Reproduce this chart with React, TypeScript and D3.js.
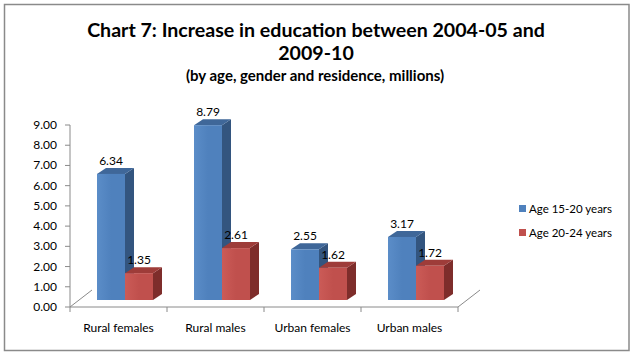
import React from "react";
import * as d3 from "d3";

const categories = ["Rural females", "Rural males", "Urban females", "Urban males"];
const seriesNames = ["Age 15-20 years", "Age 20-24 years"];
const age1520 = [6.34, 8.79, 2.55, 3.17];
const age2024 = [1.35, 2.61, 1.62, 1.72];
const yTicks = [0, 1, 2, 3, 4, 5, 6, 7, 8, 9];

const W = 633;
const H = 356;
const FONT = "Lato, 'Open Sans', sans-serif";

const palette = [
  { front: "#4F81BD", light: "#5B8DC8", side: "#33557F", top: "#3F6799" },
  { front: "#C0504D", light: "#CB5B57", side: "#7E2D2B", top: "#9E3C39" },
];

export default function App() {
  const series = [age1520, age2024];
  const x0 = d3.scaleBand<string>().domain(categories).range([70, 458]).padding(0);
  const x1 = d3.scaleBand<string>().domain(seriesNames).range([27, 83]).padding(0);
  const yAxis = d3.scaleLinear().domain([0, 9]).range([307, 125]);
  const yBar = d3.scaleLinear().domain([0, 9]).range([300, 121]);
  const dx = 9;
  const dy = -6;
  const fdx = 22;
  const fdy = -17;
  const fmt = d3.format(".2f");

  return (
    <svg width={W} height={H} style={{ position: "absolute", left: 0, top: 0, background: "#fff" }}>
      <defs>
        {palette.map((p, i) => (
          <linearGradient id={`g${i}`} key={i} x1="0" x2="1" y1="0" y2="0">
            <stop offset="0" stopColor={p.light} />
            <stop offset="0.5" stopColor={p.front} />
            <stop offset="1" stopColor={p.front} />
          </linearGradient>
        ))}
      </defs>
      <rect x={0} y={0} width={W} height={H} fill="#fff" />
      <rect x={4.5} y={4.5} width={624.5} height={346} fill="none" stroke="#8a8a8a" strokeWidth={1.5} />

      <text x={316} y={37} textAnchor="middle" fontFamily={FONT} fontWeight="bold" fontSize={19.6} fill="#000">
        Chart 7: Increase in education between 2004-05 and
      </text>
      <text x={316} y={60} textAnchor="middle" fontFamily={FONT} fontWeight="bold" fontSize={19.6} fill="#000">
        2009-10
      </text>
      <text x={315} y={81} textAnchor="middle" fontFamily={FONT} fontWeight="bold" fontSize={15} fill="#000">
        (by age, gender and residence, millions)
      </text>

      {/* value axis */}
      <line x1={70} x2={70} y1={yAxis(9)} y2={yAxis(0)} stroke="#8a8a8a" strokeWidth={1} />
      {yTicks.map((t) => (
        <g key={t}>
          <line x1={65} x2={70} y1={yAxis(t)} y2={yAxis(t)} stroke="#8a8a8a" />
          <text x={57} y={yAxis(t) + 4} textAnchor="end" fontFamily={FONT} fontSize={12} fill="#000">
            {fmt(t)}
          </text>
        </g>
      ))}

      {/* floor */}
      <line x1={70} x2={458} y1={307} y2={307} stroke="#8a8a8a" />
      <line x1={70} x2={70 + fdx} y1={307} y2={307 + fdy} stroke="#8a8a8a" />
      <line x1={458} x2={458 + fdx} y1={307} y2={307 + fdy} stroke="#8a8a8a" />
      {[...categories.map((c) => x0(c) as number), 458].map((xv, i) => (
        <line key={i} x1={xv} x2={xv} y1={307} y2={312} stroke="#8a8a8a" />
      ))}

      {/* bars */}
      {categories.map((c, ci) => (
        <g key={c}>
          {seriesNames.map((s, si) => {
            const v = series[si][ci];
            const x = (x0(c) as number) + (x1(s) as number);
            const w = x1.bandwidth();
            const yt = yBar(v);
            const yb = yBar(0);
            const p = palette[si];
            return (
              <g key={s}>
                <polygon
                  points={`${x + w},${yt} ${x + w + dx},${yt + dy} ${x + w + dx},${yb + dy} ${x + w},${yb}`}
                  fill={p.side}
                />
                <polygon
                  points={`${x},${yt} ${x + dx},${yt + dy} ${x + w + dx},${yt + dy} ${x + w},${yt}`}
                  fill={p.top}
                />
                <rect x={x} y={yt} width={w} height={yb - yt} fill={`url(#g${si})`} />
              </g>
            );
          })}
          {seriesNames.map((s, si) => {
            const v = series[si][ci];
            const x = (x0(c) as number) + (x1(s) as number);
            return (
              <text
                key={s}
                x={x + x1.bandwidth() / 2}
                y={yBar(v) - 9}
                textAnchor="middle"
                fontFamily={FONT}
                fontSize={12}
                fill="#000"
              >
                {fmt(v)}
              </text>
            );
          })}
          <text
            x={(x0(c) as number) + x0.bandwidth() / 2}
            y={332}
            textAnchor="middle"
            fontFamily={FONT}
            fontSize={12}
            fill="#000"
          >
            {c}
          </text>
        </g>
      ))}

      {/* legend */}
      {seriesNames.map((s, i) => (
        <g key={s}>
          <rect x={519} y={205 + i * 24} width={7} height={7} fill={palette[i].front} />
          <text x={529} y={213 + i * 24} fontFamily={FONT} fontSize={11.5} fill="#000">
            {s}
          </text>
        </g>
      ))}
    </svg>
  );
}
